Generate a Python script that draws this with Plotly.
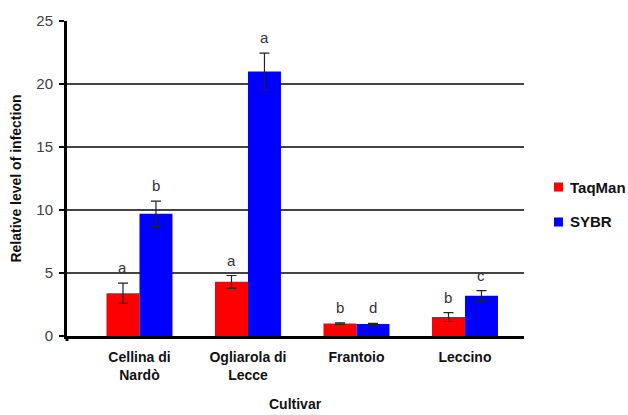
import plotly.graph_objects as go

# Relative level of infection per cultivar, measured with two qPCR chemistries
cultivars = ["Cellina di<br>Nardò", "Ogliarola di<br>Lecce", "Frantoio", "Leccino"]
taqman = [3.4, 4.3, 1.0, 1.5]
taqman_err = [0.8, 0.5, 0.05, 0.35]
taqman_letters = ["a", "a", "b", "b"]
sybr = [9.7, 21.0, 0.95, 3.2]
sybr_err = [1.0, 1.45, 0.05, 0.4]
sybr_letters = ["b", "a", "d", "c"]

RED = "#ff0000"
BLUE = "#0000ff"
FONT = "Liberation Sans, Arial, sans-serif"

W, H = 628, 415
ML, MR, MT, MB = 67, 104, 21, 79
PW, PH = W - ML - MR, H - MT - MB


def px_x(px):
    return (px - ML) / PW


def px_y(py):
    return (H - MB - py) / PH


fig = go.Figure()
for name, vals, errs, color in [("TaqMan", taqman, taqman_err, RED),
                                ("SYBR", sybr, sybr_err, BLUE)]:
    fig.add_trace(go.Bar(
        name=name, x=cultivars, y=vals, marker=dict(color=color, line=dict(width=0)),
        error_y=dict(type="data", array=errs, color="#222222", thickness=1.2, width=5),
        showlegend=False,
    ))

# significance letters above each error bar
annotations = []
for vals, errs, letters, shift in [(taqman, taqman_err, taqman_letters, -0.152),
                                   (sybr, sybr_err, sybr_letters, 0.152)]:
    for i, (v, e, t) in enumerate(zip(vals, errs, letters)):
        annotations.append(dict(
            x=i + shift, y=v + e, xref="x", yref="y", text=t, showarrow=False,
            yanchor="bottom", yshift=5, font=dict(family=FONT, size=15, color="#333333"),
        ))

# legend drawn as swatches plus labels to the right of the plot
shapes = []
for label, color, cy in [("TaqMan", RED, 187), ("SYBR", BLUE, 222)]:
    shapes.append(dict(type="rect", xref="paper", yref="paper",
                       x0=px_x(554), x1=px_x(563), y0=px_y(cy + 4.5), y1=px_y(cy - 4.5),
                       fillcolor=color, line=dict(width=0)))
    annotations.append(dict(x=px_x(568), y=px_y(cy), xref="paper", yref="paper",
                            xanchor="left", yanchor="middle", text=f"<b>{label}</b>",
                            showarrow=False,
                            font=dict(family=FONT, size=15, color="#111111")))

# short extension of the value axis below zero
shapes.append(dict(type="line", xref="paper", yref="paper", x0=0, x1=0,
                   y0=0, y1=px_y(H - MB + 5), line=dict(color="black", width=3)))

annotations.append(dict(x=0.5, y=px_y(404), xref="paper", yref="paper",
                        text="<b>Cultivar</b>", showarrow=False, yanchor="middle",
                        font=dict(family=FONT, size=14, color="#111111")))

fig.update_layout(
    width=W, height=H,
    margin=dict(l=ML, r=MR, t=MT, b=MB),
    paper_bgcolor="white", plot_bgcolor="white",
    barmode="group", bargap=0.392, bargroupgap=0,
    font=dict(family=FONT, size=15, color="#333333"),
    annotations=annotations, shapes=shapes,
)
fig.update_xaxes(
    range=[-0.668, 3.544], showline=True, linecolor="black", linewidth=3,
    ticks="", showgrid=False, zeroline=False,
    tickfont=dict(family=FONT, size=14, color="#111111"),
    tickprefix="<b>", ticksuffix="</b>", ticklabelstandoff=6,
)
fig.update_yaxes(
    range=[0, 25], dtick=5, showline=True, linecolor="black", linewidth=3,
    ticks="outside", ticklen=5, tickwidth=2, tickcolor="black",
    showgrid=True, gridcolor="#444444", gridwidth=1.5, zeroline=False,
    tickfont=dict(family=FONT, size=15, color="#404040"),
    ticklabelstandoff=3,
    title=dict(text="<b>Relative level of infection</b>", standoff=12,
               font=dict(family=FONT, size=14, color="#111111")),
)

fig.write_html("out.html")
